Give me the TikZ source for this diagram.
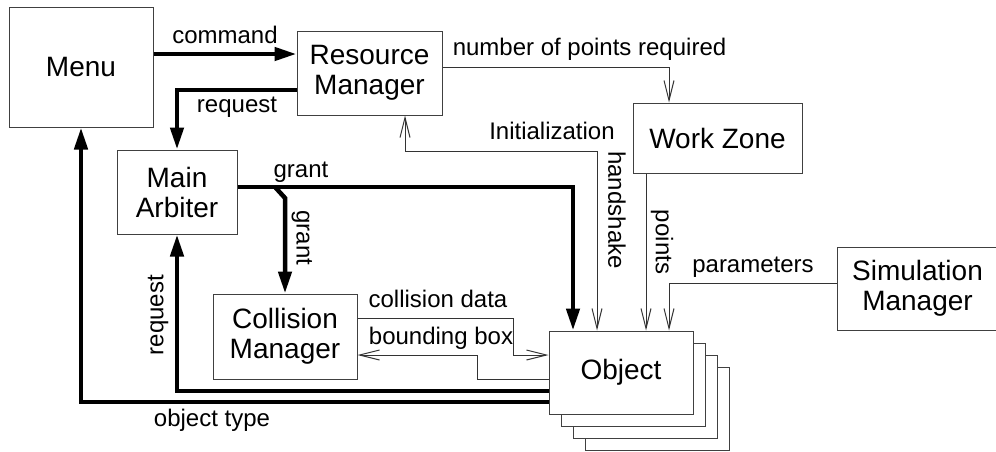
\documentclass[tikz,border=0pt]{standalone}
\usepackage{fontspec}
\setmainfont{Liberation Sans}
\usetikzlibrary{arrows.meta}
\tikzset{sbarb/.tip={Straight Barb[length=20pt,width=10pt]}}
\begin{document}
\begin{tikzpicture}[x=1pt,y=-1pt,
 box/.style={draw=black!75,line width=1pt,fill=white,inner sep=0pt,align=center,font=\fontsize{28}{30}\selectfont},
 bigarrow/.style={line width=4.5pt,-{Triangle[length=22pt,width=13pt]}},
 smallarrow/.style={line width=1pt,draw=black!80,-sbarb},
 lbl/.style={inner sep=0pt,font=\fontsize{24}{26}\selectfont}]
\clip (0,0) rectangle (996,451);
\useasboundingbox (0,0) rectangle (996,451);
% boxes
\node[box,minimum width=144pt,minimum height=120pt] (menu) at (81,67) {Menu};
\node[box,minimum width=145pt,minimum height=84pt] (rm) at (369.5,73) {Resource\\Manager};
\node[box,minimum width=120pt,minimum height=84pt] (ma) at (177,192) {Main\\Arbiter};
\node[box,minimum width=144pt,minimum height=85pt] (cm) at (285,336.5) {Collision\\Manager};
\node[box,minimum width=169pt,minimum height=70pt] (wz) at (717.5,138) {Work Zone};
\node[box,minimum width=161pt,minimum height=83pt] (sm) at (917.5,288.5) {Simulation\\Manager};
\node[box,minimum width=144pt,minimum height=83pt] (ob4) at (657,408.5) {};
\node[box,minimum width=144pt,minimum height=83pt] (ob3) at (645,396.5) {};
\node[box,minimum width=144pt,minimum height=83pt] (ob2) at (633,384.5) {};
\node[box,minimum width=144pt,minimum height=83pt] (obj) at (621,372.5) {Object};
% helper coordinates
\coordinate (ycmd) at (0,54);
\coordinate (yreq) at (0,90);
\coordinate (ygr) at (0,187);
\coordinate (xgr) at (573,0);
\coordinate (gb) at (275,187);
\coordinate (gb2) at (285,198);
\coordinate (yr2) at (0,391);
\coordinate (yot) at (0,402);
\coordinate (ynp) at (0,67);
\coordinate (xnp) at (669,0);
\coordinate (xhs) at (597,0);
\coordinate (yhs) at (0,151);
\coordinate (xhs2) at (405,0);
\coordinate (xpt) at (646,0);
\coordinate (ypar) at (0,283);
\coordinate (ycd) at (0,318);
\coordinate (xcd) at (513,0);
\coordinate (ycd2) at (0,355);
\coordinate (ybb) at (0,379);
\coordinate (xbb) at (477,0);
% thick connectors
\draw[bigarrow] (menu.east |- ycmd) -- (rm.west |- ycmd);
\draw[bigarrow] (rm.west |- yreq) -| (ma.north);
\draw[bigarrow] (ma.east |- ygr) -| (obj.north -| xgr);
\draw[bigarrow] (gb) -- (gb2) -- (cm.north);
\draw[bigarrow] (obj.west |- yr2) -| (ma.south);
\draw[bigarrow] (obj.west |- yot) -| (menu.south);
% thin connectors
\draw[smallarrow] (rm.east |- ynp) -| (wz.north -| xnp);
\draw[smallarrow,sbarb-sbarb] (obj.north -| xhs) |- (yhs -| xhs2) -- (rm.south -| xhs2);
\draw[smallarrow] (wz.south -| xpt) -- (obj.north -| xpt);
\draw[smallarrow] (sm.west |- ypar) -| (obj.north -| xnp);
\draw[smallarrow] (cm.east |- ycd) -| (xcd |- ycd2) -- (obj.west |- ycd2);
\draw[smallarrow] (obj.west |- ybb) -| (xbb |- ycd2) -- (cm.east |- ycd2);
% labels
\node[lbl,anchor=base] (lcmd) at (225,43) {command};
\node[lbl,anchor=base] (lreq) at (237,112) {request};
\node[lbl,anchor=base] (lnp) at (589.5,55) {number of points required};
\node[lbl,anchor=base] (linit) at (552,139) {Initialization};
\node[lbl,anchor=base] (lgr) at (301,177) {grant};
\node[lbl,rotate=-90] (lgr2) at (302,238) {grant};
\node[lbl,rotate=90] (lreq2) at (158,315) {request};
\node[lbl,rotate=-90] (lhs) at (617,210) {handshake};
\node[lbl,rotate=-90] (lpt) at (662,242) {points};
\node[lbl,anchor=base] (lpar) at (753,272) {parameters};
\node[lbl,anchor=base] (lcd) at (438,307) {collision data};
\node[lbl,anchor=base] (lbb) at (441,344) {bounding box};
\node[lbl,anchor=base] (lot) at (212,426) {object type};
\end{tikzpicture}
\end{document}
